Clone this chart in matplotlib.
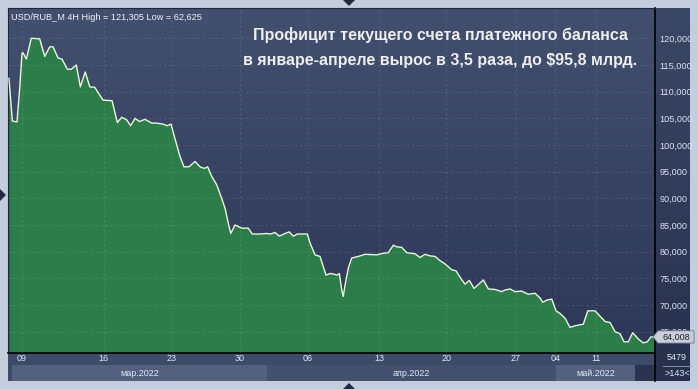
import numpy as np
import matplotlib.pyplot as plt
from matplotlib.patches import Rectangle, Polygon
from matplotlib.colors import LinearSegmentedColormap
from matplotlib.transforms import blended_transform_factory

W, H = 698, 389

# x = trading days from 09 Mar 2022 (4H closes), y = USD/RUB
days = [-0.96, -0.71, -0.37, -0.17, 0.0, 0.07, 0.32, 0.68, 1.30, 1.67,
        2.04, 2.28, 2.65, 2.94, 3.33, 3.63, 3.99, 4.29, 4.65, 4.98,
        5.35, 5.96, 6.62, 7.01, 7.33, 7.70, 7.99, 8.31, 8.63, 9.04,
        9.54, 9.90, 10.39, 10.64, 10.96, 11.20, 11.38, 11.62, 11.91, 12.28,
        12.72, 13.09, 13.40, 13.65, 13.95, 14.32, 14.68, 14.93, 15.17, 15.35,
        15.66, 16.15, 16.64, 16.93, 17.50, 17.99, 18.29, 18.60, 18.92, 19.34,
        19.65, 19.95, 20.24, 20.98, 21.18, 21.54, 21.91, 22.35, 22.65, 22.89,
        23.18, 23.33, 23.51, 23.62, 23.75, 23.99, 24.24, 24.73, 25.22, 26.08,
        26.57, 26.93, 27.30, 27.55, 27.92, 28.29, 28.90, 29.26, 29.63, 30.00,
        30.37, 30.74, 31.10, 31.60, 31.91, 32.26, 32.57, 32.89, 33.24, 33.92,
        34.29, 34.78, 35.27, 35.51, 35.88, 36.25, 36.74, 37.23, 37.72, 38.09,
        38.29, 38.58, 38.95, 39.26, 39.56, 39.93, 40.29, 40.66, 41.27, 41.60,
        42.13, 42.50, 42.87, 43.24, 43.60, 43.97, 44.26, 44.58, 44.90, 45.32,
        45.68, 45.98, 46.23, 46.54]
rates = [112.5, 104.5, 104.3, 110.6, 117.2, 117.3, 116.1, 120.0, 119.9, 116.6,
         118.4, 118.4, 116.3, 116.1, 114.2, 114.2, 115.0, 110.9, 113.7, 110.9,
         110.8, 108.4, 108.3, 104.2, 105.2, 104.7, 103.6, 105.0, 104.4, 104.8,
         104.1, 104.1, 103.9, 103.6, 103.9, 101.6, 100.0, 97.8, 95.9, 95.9,
         96.9, 95.9, 95.6, 95.9, 94.1, 92.5, 90.0, 88.1, 85.3, 83.4,
         85.0, 84.4, 84.4, 83.3, 83.3, 83.4, 83.3, 83.6, 82.9, 83.4,
         83.7, 82.9, 83.3, 83.3, 81.6, 79.4, 79.1, 75.6, 75.9, 75.8,
         75.6, 75.9, 72.8, 71.6, 73.7, 76.9, 78.8, 79.1, 79.5, 79.4,
         79.7, 79.8, 81.2, 80.9, 80.8, 79.8, 79.6, 78.9, 79.5, 79.2,
         79.1, 78.3, 77.7, 76.6, 76.4, 75.0, 73.9, 74.6, 73.1, 74.7,
         73.0, 72.9, 72.5, 72.8, 73.0, 72.5, 72.6, 72.0, 72.2, 71.3,
         70.5, 70.9, 71.1, 68.9, 68.4, 67.5, 65.8, 66.1, 66.4, 68.9,
         68.9, 67.9, 66.9, 66.7, 65.0, 64.6, 63.1, 63.1, 64.8, 63.6,
         62.9, 63.1, 64.0, 64.008]
rates = [r * 1000 for r in rates]

tick_days = [0, 6, 11, 16, 21, 26.25, 31.2, 36.3, 39.2, 42.2]
tick_labels = ["09", "16", "23", "30", "06", "13", "20", "27", "04", "11"]
months = ["мар.2022", "апр.2022", "май.2022"]
month_spans = [(-0.75, 18.0), (18.0, 39.25), (39.25, 45.1)]
y_levels = list(range(65000, 120001, 5000))
last_price = 64008

title = ("Профицит текущего счета платежного баланса\n"
         "в январе-апреле вырос в 3,5 раза, до $95,8 млрд.")
info = "USD/RUB_M 4H High = 121,305 Low = 62,625"

plt.rcParams["font.family"] = ["Liberation Sans", "DejaVu Sans"]

fig = plt.figure(figsize=(W / 100, H / 100), dpi=100)
fig.patch.set_facecolor("#c4cddb")


def fr(x0, y0, x1, y1):
    # pixel box -> figure fraction rect
    return [x0 / W, 1 - y1 / H, (x1 - x0) / W, (y1 - y0) / H]


# right price panel
rax = fig.add_axes(fr(655, 8, 690, 381), zorder=0)
rax.imshow(np.linspace(0, 1, 256).reshape(-1, 1), aspect="auto",
           cmap=LinearSegmentedColormap.from_list("r", ["#3b4766", "#27314e"]),
           extent=[0, 1, 0, 1])
rax.set_axis_off()

# main chart
ax = fig.add_axes(fr(8, 8, 655, 353), zorder=2)
x_lo, x_hi = -1.03, 46.54
y_lo, y_hi = 60994, 125680
ax.imshow(np.linspace(0, 1, 256).reshape(-1, 1), aspect="auto",
          cmap=LinearSegmentedColormap.from_list("bg", ["#434f6e", "#2d3858"]),
          extent=[x_lo, x_hi, y_lo, y_hi], zorder=0)
ax.fill_between(days, rates, y_lo, color="#2c7d4a", lw=0, zorder=1)
ax.plot(days, rates, color="#eaf7dc", lw=1.0, zorder=3)
ax.set_xlim(x_lo, x_hi)
ax.set_ylim(y_lo, y_hi)

ax.set_xticks(tick_days)
ax.set_yticks(y_levels)
ax.set_yticklabels([f"{v:,}" for v in y_levels])
ax.yaxis.tick_right()
ax.tick_params(axis="x", length=0, labelbottom=False)
ax.tick_params(axis="y", length=0, pad=3, labelsize=6.6, labelcolor="#d8e3f3")
ax.set_axisbelow(False)
ax.grid(True, color="#ffffff", alpha=0.13, lw=0.7, linestyle=(0, (2, 3)))
for s in ["left", "top"]:
    ax.spines[s].set_color("#1e263a")
    ax.spines[s].set_linewidth(0.8)
for s in ["right", "bottom"]:
    ax.spines[s].set_color("black")
    ax.spines[s].set_linewidth(1.2)

ax.text(0.004, 0.985, info, transform=ax.transAxes, ha="left", va="top",
        fontsize=6.6, color="#f2f2f2")
ax.text(0.668, 0.945, title, transform=ax.transAxes, ha="center", va="top",
        fontsize=11.5, fontweight="bold", color="#eeeeee", linespacing=1.85)

# last price tag (covers part of the lowest label, as in the terminal)
bt = blended_transform_factory(fig.transFigure, ax.transData)
half = 1150
tag = Polygon([(653 / W, last_price), (658 / W, last_price + half),
               (694 / W, last_price + half), (694 / W, last_price - half),
               (658 / W, last_price - half)],
              closed=True, transform=bt, facecolor="#c9ced8",
              edgecolor="#70788c", lw=0.6, zorder=5, clip_on=False)
fig.add_artist(tag)
fig.text(676 / W, last_price, f"{last_price:,}", transform=bt, ha="center",
         va="center", fontsize=6.5, color="#1c2233", zorder=6)

# date band
bax = fig.add_axes(fr(8, 353, 655, 381), zorder=1)
bax.set_facecolor("#3d4b69")
bax.set_xlim(x_lo, x_hi)
bax.set_ylim(0, 1)
band_colors = ["#53617f", "#43506e", "#53617f"]
for (a, b), c in zip(month_spans, band_colors):
    bax.add_patch(Rectangle((a, 0), b - a, 0.57, facecolor=c, lw=0))
bax.add_patch(Rectangle((45.1, 0), x_hi - 45.1, 0.57, facecolor="#2a3451", lw=0))
for d, lab in zip(tick_days, tick_labels):
    bax.text(d, 0.8, lab, ha="center", va="center", fontsize=6.5, color="#e2e8f2")
for (a, b), lab in zip(month_spans, months):
    bax.text((a + b) / 2, 0.27, lab, ha="center", va="center", fontsize=6.5,
             color="#e2e8f2")
bax.set_xticks([])
bax.set_yticks([])
for s in ["left", "top", "bottom"]:
    bax.spines[s].set_visible(False)
bax.spines["right"].set_color("black")
bax.spines["right"].set_linewidth(1.2)

# bottom right counter
fig.add_artist(Rectangle((655 / W, 1 - 381 / H), 35 / W, 28 / H,
                         transform=fig.transFigure, facecolor="#2b3552", lw=0,
                         zorder=0))
fig.text(677 / W, 1 - 358 / H, "5479", ha="center", va="center",
         fontsize=6.5, color="#e2e8f2")
fig.add_artist(plt.Line2D([663 / W, 691 / W], [1 - 366 / H] * 2,
                          transform=fig.transFigure, color="#9aa6bd", lw=0.6))
fig.text(677 / W, 1 - 374 / H, ">143<", ha="center", va="center",
         fontsize=6.5, color="#e2e8f2")

# frame arrows
for pts in ([(343, 0), (355, 0), (349, 6)], [(343, 389), (355, 389), (349, 383)],
            [(0, 189), (0, 201), (6, 195)]):
    fig.add_artist(Polygon([(x / W, 1 - y / H) for x, y in pts], closed=True,
                           transform=fig.transFigure, facecolor="#1f2940", lw=0))

fig.savefig("out.png", dpi=100, facecolor=fig.get_facecolor())
